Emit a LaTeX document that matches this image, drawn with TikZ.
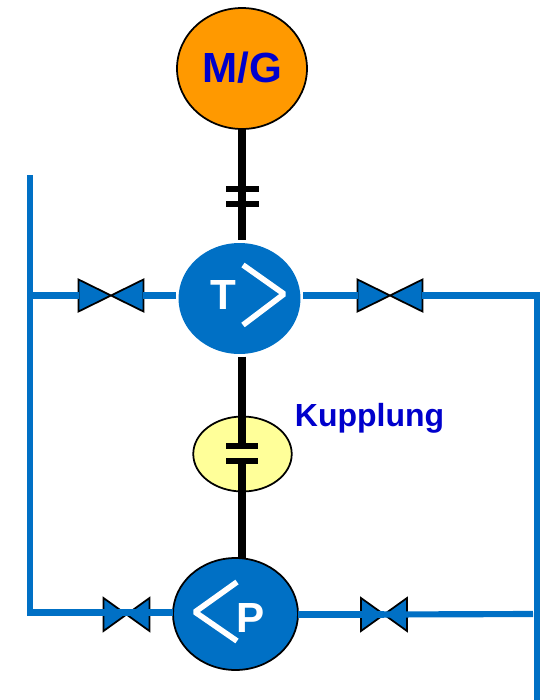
\documentclass[tikz,border=0pt]{standalone}
\usepackage{xcolor}
\usepackage{fontspec}
\setmainfont{Liberation Sans}
\usepackage{tikz}
\usetikzlibrary{shapes.geometric}
\definecolor{pipeblue}{HTML}{0070C5}
\definecolor{motororange}{HTML}{FF9900}
\definecolor{clutchyellow}{HTML}{FFFF99}
\definecolor{labelblue}{HTML}{0000CC}
\newcommand{\valve}[3]{
\node[#3] (#1) at (#2) {};
\draw[valveline] (#1.north west) -- (#1.south east) -- (#1.north east) -- (#1.south west) -- cycle;
}

\begin{document}
\begin{tikzpicture}[x=.02cm, y=-.02cm]
\tikzstyle{machine}=[ellipse, inner sep=0pt, outer sep=0pt]
\tikzstyle{pipe}=[draw=pipeblue, line width=3.5pt]
\tikzstyle{shaft}=[draw=black, line width=4.8pt]
\tikzstyle{bar}=[rectangle, fill=black, minimum width=.66cm, minimum height=.12cm, inner sep=0pt]
\tikzstyle{valvewide}=[rectangle, minimum width=1.3cm, minimum height=.64cm, inner sep=0pt, outer sep=0pt]
\tikzstyle{valvesmall}=[rectangle, minimum width=.92cm, minimum height=.66cm, inner sep=0pt, outer sep=0pt]
\tikzstyle{valveline}=[draw=black, fill=pipeblue, line width=1pt, line join=miter]
\tikzstyle{chevron}=[draw=white, line width=3.2pt, line join=bevel]
\tikzstyle{letter}=[text=white, font=\bfseries\fontsize{24}{24}\selectfont, inner sep=0pt]
\useasboundingbox (0,0) rectangle (541,700);

\node[machine, draw=black, line width=1pt, fill=motororange, minimum width=2.6cm, minimum height=2.42cm] (mg) at (242,68.5) {};
\node[text=labelblue, font=\bfseries\fontsize{24}{24}\selectfont, inner sep=0pt] (mglabel) at (242,68) {M/G};
\node[machine, fill=pipeblue, minimum width=2.44cm, minimum height=2.22cm, outer sep=1.5pt] (turbine) at (239.5,298.5) {};
\node[machine, draw=black, line width=1pt, fill=clutchyellow, minimum width=1.97cm, minimum height=1.5cm] (clutch) at (242.5,454) {};
\node[machine, draw=black, line width=1pt, fill=pipeblue, minimum width=2.5cm, minimum height=2.24cm] (pump) at (235.5,614) {};
\node[text=labelblue, font=\bfseries\fontsize{18.2}{19}\selectfont, inner sep=0pt] (kupplung) at (369.5,418) {Kupplung};
\node[letter] (t) at (223,295) {T};
\node[letter] (p) at (251,618) {P};

\draw[chevron] (243,265) -- (284,294) -- (243,325);
\draw[chevron] (237,582) -- (195,612) -- (237,641);

\node[bar] (upper1) at (242.5,189) {};
\node[bar] (upper2) at (242.5,204) {};
\node[bar] (lower1) at (242,446) {};
\node[bar] (lower2) at (242,461) {};

\path[shaft]
(mg.south) edge (mg.south |- turbine.north)
(lower1 |- turbine.south) edge (lower1)
(lower2) edge (lower2 |- pump.north);

\coordinate (topleft) at (30,175);
\coordinate (midleft) at (30,295.5);
\coordinate (botleft) at (30,612.5);
\coordinate (midright) at (537,295.5);
\coordinate (botright) at (533,614);
\coordinate (endright) at (537,700);

\valve{vturbinel}{111,295.5}{valvewide}
\valve{vturbiner}{390,295.5}{valvewide}
\valve{vpumpl}{126.5,614.5}{valvesmall}
\valve{vpumpr}{384,614.5}{valvesmall}

\draw[pipe] (topleft) -- (botleft) -- (vpumpl.center |- botleft);
\draw[pipe] (vpumpl.center |- botleft) -- (pump.west |- botleft);
\draw[pipe] (midleft) -- (vturbinel.west);
\draw[pipe] (vturbinel.east) -- (turbine.west |- vturbinel.east);
\draw[pipe] (turbine.east |- vturbiner.west) -- (vturbiner.west);
\draw[pipe] (vturbiner.east) -- (midright) -- (endright);
\draw[pipe] (pump.east |- vpumpr.west) -- (vpumpr.center);
\draw[pipe] (vpumpr.center) -- (botright);
\end{tikzpicture}
\end{document}
